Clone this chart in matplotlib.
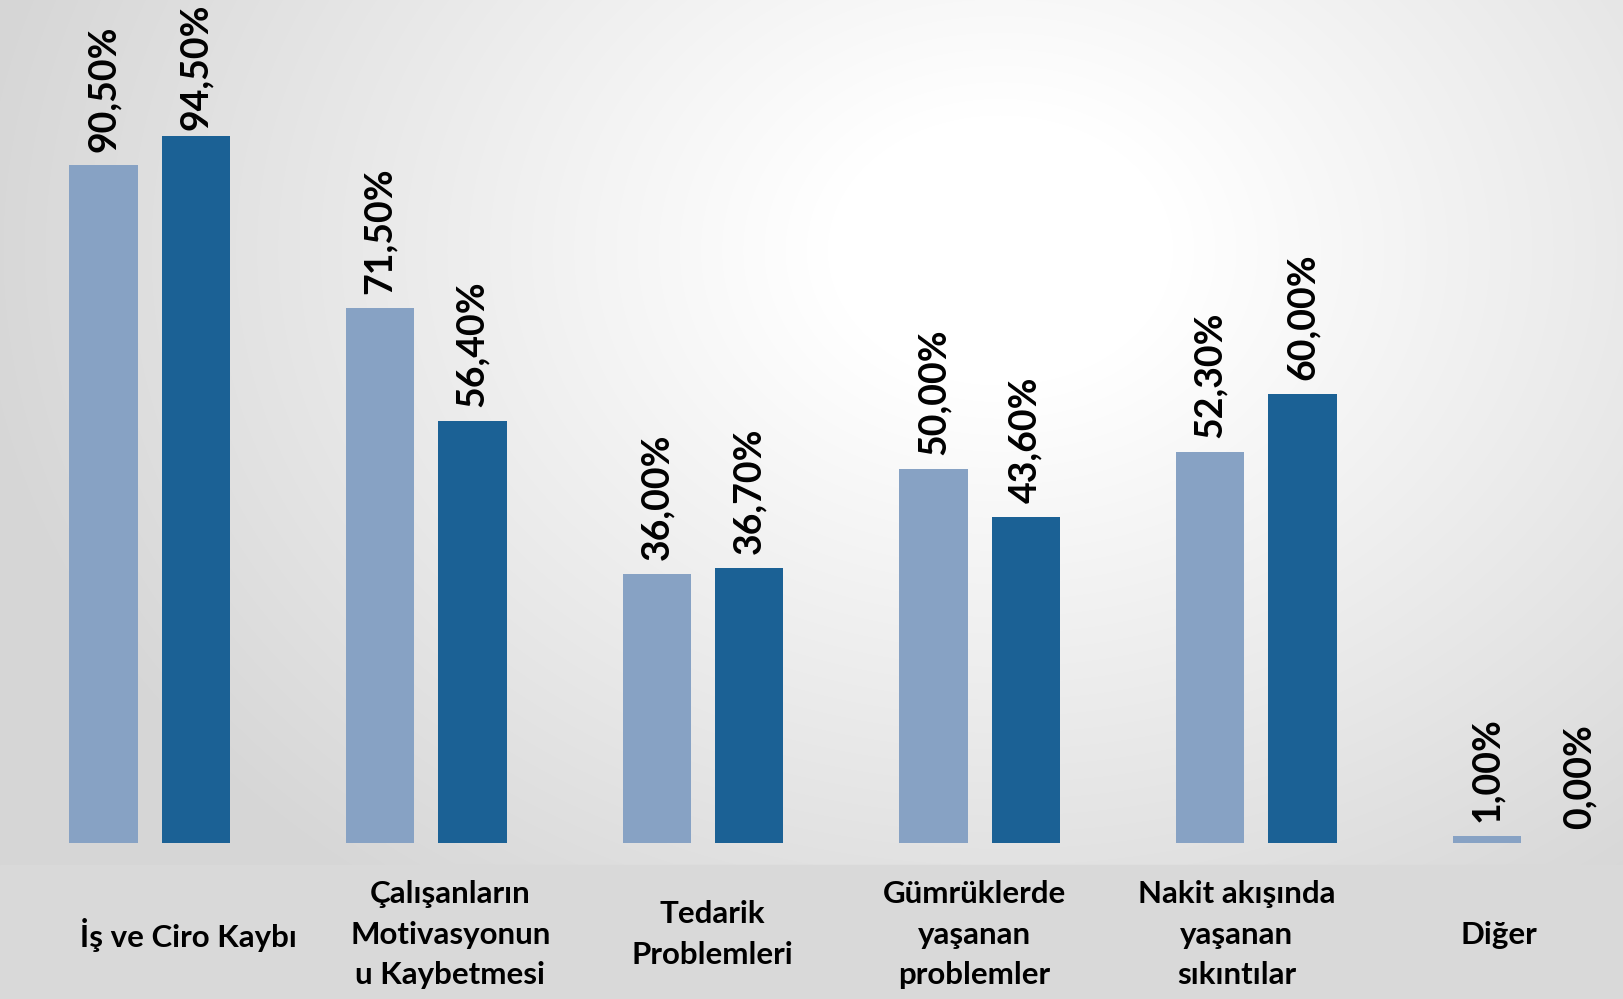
import matplotlib
matplotlib.use("Agg")
import matplotlib.pyplot as plt
import numpy as np

# Veriler
categories = ["İş ve Ciro Kaybı", "Çalışanların\nMotivasyonun\nu Kaybetmesi",
              "Tedarik\nProblemleri", "Gümrüklerde\nyaşanan\nproblemler",
              "Nakit akışında\nyaşanan\nsıkıntılar", "Diğer"]
seri_1 = [90.5, 71.5, 36.0, 50.0, 52.3, 1.0]
seri_2 = [94.5, 56.4, 36.7, 43.6, 60.0, 0.0]

light = "#87A2C4"
dark = "#1B6195"

plt.rcParams['font.family'] = ['Lato', 'DejaVu Sans']

fig = plt.figure(figsize=(16.23, 9.99), dpi=100)

# Arka plan: radyal gradyan
bg = fig.add_axes([0, 0, 1, 1])
H, W = 999, 1623
yy, xx = np.mgrid[0:H, 0:W]
d = np.sqrt(((xx - 1000) / 1150.0) ** 2 + ((yy - 250) / 900.0) ** 2)
g = np.clip(1.0 - 0.16 * np.clip(d - 0.15, 0, None) / 0.75, 0.84, 1.0)
bg.imshow(np.dstack([g, g, g]), extent=[0, W, H, 0], aspect='auto')
# alt etiket bandı
bg.add_patch(plt.Rectangle((0, 865), W, H - 865, color="#D9D9D9", zorder=2))
bg.set_xlim(0, W)
bg.set_ylim(H, 0)
bg.axis('off')

# Çubuklar
ax = fig.add_axes([0, 0.156, 1, 0.844])
ax.patch.set_alpha(0)
x = np.arange(len(categories))
w = 0.247
off = 0.1665
b1 = ax.bar(x - off, seri_1, w, color=light)
b2 = ax.bar(x + off, seri_2, w, color=dark)
ax.set_xlim(-0.5407, 5.325)
ax.set_ylim(0, 112.6)
ax.axis('off')

texts = []
for bars in (b1, b2):
    for bar in bars:
        h = bar.get_height()
        lbl = f"{h:.2f}%".replace(".", ",")
        t = ax.annotate(lbl, (bar.get_x() + bar.get_width() / 2, h),
                        xytext=(0, 10), textcoords='offset points',
                        rotation=90, ha='center', va='bottom',
                        fontsize=27, fontweight='bold', color='black')
        texts.append(t)

# üst kenardan taşan etiketleri biraz aşağı al
fig.canvas.draw()
r = fig.canvas.get_renderer()
for t in texts:
    top = t.get_window_extent(r).y1
    if top > H - 3:
        t.xyann = (0, 10 - (top - (H - 3)) * 72 / 100)

# Kategori etiketleri
lab = fig.add_axes([0, 0, 1, (999 - 865) / 999])
lab.patch.set_alpha(0)
lab.set_xlim(-0.719, 5.474)
lab.set_ylim(0, 1)
lab.axis('off')
for i, c in enumerate(categories):
    lab.text(i, 0.48, c, ha='center', va='center', fontsize=22.5,
             fontweight='bold', linespacing=1.55, color='black')

fig.savefig("out.png", dpi=100)
